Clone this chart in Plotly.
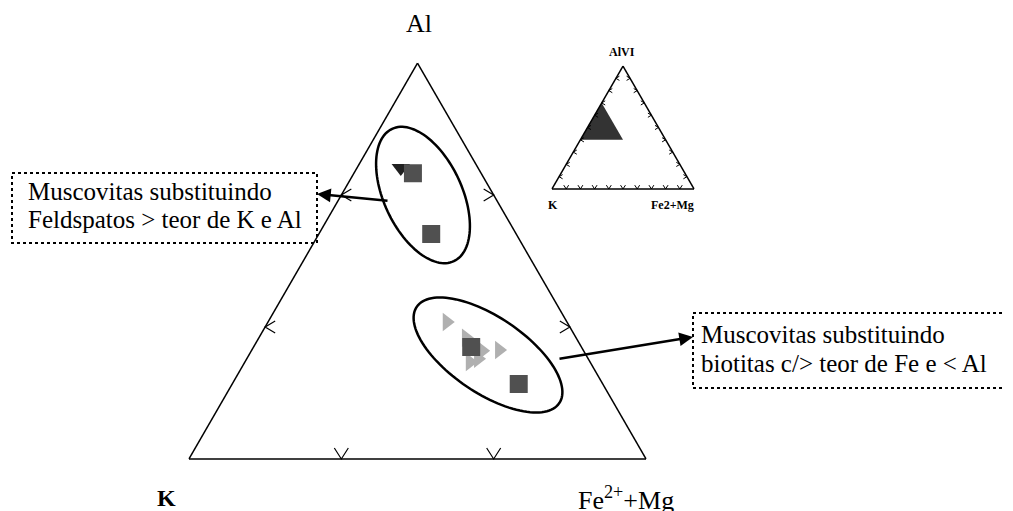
import math
import plotly.graph_objects as go

# The page body has an 8 px default margin: lay out in window pixels and shift.
OFF = 8
FIG_W, FIG_H = 1013 - OFF, 511 - OFF
SERIF = "Liberation Serif, Times New Roman, serif"

# ---------------- data (ternary: a = Al, b = K, c = Fe2+ + Mg) ----------------
sq_a = [0.722, 0.568, 0.283, 0.189]
sq_b = [0.149, 0.186, 0.241, 0.184]
sq_c = [0.129, 0.246, 0.476, 0.627]

tdown_a = [0.735]
tdown_b = [0.169]
tdown_c = [0.096]

tright_a = [0.346, 0.306, 0.273, 0.275, 0.245, 0.253]
tright_b = [0.263, 0.241, 0.222, 0.184, 0.263, 0.241]
tright_c = [0.391, 0.453, 0.505, 0.541, 0.492, 0.506]

# inset field (AlVI - K - Fe2+Mg)
field_a = [0.7, 0.4, 0.4, 0.7]
field_b = [0.3, 0.6, 0.3, 0.3]
field_c = [0.0, 0.0, 0.3, 0.0]

main_tick_fracs = [1 / 3, 2 / 3]
inset_tick_fracs = [0.1, 0.2, 0.3, 0.4, 0.5, 0.6, 0.7, 0.8, 0.9]

# ---------------- layout geometry (window pixels) ----------------
MAIN = dict(L=(189, 459), R=(646, 459), A=(417.5, 63))
INSET = dict(L=(552, 189), R=(694, 189), A=(623, 66))


def X(px):
    return (px - OFF) / FIG_W


def Y(py):
    return 1 - (py - OFF) / FIG_H


def domain(tri):
    return dict(x=[X(tri["L"][0]), X(tri["R"][0])], y=[Y(tri["L"][1]), Y(tri["A"][1])])


def path_from(points, close=False):
    s = "M " + " L ".join(f"{X(x):.5f},{Y(y):.5f}" for x, y in points)
    return s + (" Z" if close else "")


def chevrons(tri, fracs, scale=1.0):
    out = []
    L, R, A = tri["L"], tri["R"], tri["A"]
    for t in fracs:
        # bottom edge: "v"
        P = (L[0] + t * (R[0] - L[0]), L[1])
        out.append([(P[0] - 7 * scale, P[1] - 11 * scale), P, (P[0] + 7 * scale, P[1] - 11 * scale)])
        # left edge: "<"
        P = (L[0] + t * (A[0] - L[0]), L[1] + t * (A[1] - L[1]))
        out.append([(P[0] + 10 * scale, P[1] - 6 * scale), P, (P[0] + 10 * scale, P[1] + 6 * scale)])
        # right edge: ">"
        P = (R[0] + t * (A[0] - R[0]), R[1] + t * (A[1] - R[1]))
        out.append([(P[0] - 10 * scale, P[1] - 6 * scale), P, (P[0] - 10 * scale, P[1] + 6 * scale)])
    return out


def ellipse(cx, cy, a, b, deg, n=120):
    th = math.radians(deg)
    pts = []
    for i in range(n):
        t = 2 * math.pi * i / n
        x = a * math.cos(t)
        y = b * math.sin(t)
        pts.append((cx + x * math.cos(th) - y * math.sin(th), cy + x * math.sin(th) + y * math.cos(th)))
    return pts


fig = go.Figure()

fig.add_trace(go.Scatterternary(
    a=tright_a, b=tright_b, c=tright_c, mode="markers", subplot="ternary",
    marker=dict(symbol="triangle-right", size=16, color="#b0b0b0", line=dict(width=0)),
    name="tri-right"))
fig.add_trace(go.Scatterternary(
    a=tdown_a, b=tdown_b, c=tdown_c, mode="markers", subplot="ternary",
    marker=dict(symbol="triangle-down", size=16, color="#202020", line=dict(width=0)),
    name="tri-down"))
fig.add_trace(go.Scatterternary(
    a=sq_a, b=sq_b, c=sq_c, mode="markers", subplot="ternary",
    marker=dict(symbol="square", size=18, color="#505050", line=dict(width=0)),
    name="square"))

fig.add_trace(go.Scatterternary(
    a=field_a, b=field_b, c=field_c, mode="lines", subplot="ternary2",
    fill="toself", fillcolor="#333333", line=dict(width=0, color="#333333"),
    name="field"))


def tern_layout(tri, lw):
    ax = dict(showline=True, linecolor="black", linewidth=lw, showgrid=False,
              showticklabels=False, ticks="", title=dict(text=""), min=0)
    return dict(domain=domain(tri), sum=1, bgcolor="white",
                aaxis=ax, baxis=ax, caxis=ax)


shapes = []
for ch in chevrons(MAIN, main_tick_fracs):
    shapes.append(dict(type="path", xref="paper", yref="paper", path=path_from(ch),
                       line=dict(color="black", width=1.2), layer="above"))
for ch in chevrons(INSET, inset_tick_fracs, scale=0.35):
    shapes.append(dict(type="path", xref="paper", yref="paper", path=path_from(ch),
                       line=dict(color="black", width=1), layer="above"))

for (cx, cy, a, b, deg) in [(423, 195, 73, 39, 65), (488, 355, 86, 38, 34)]:
    shapes.append(dict(type="path", xref="paper", yref="paper",
                       path=path_from(ellipse(cx, cy, a, b, deg), close=True),
                       line=dict(color="black", width=2.5), layer="above"))

for (x0, y0, x1, y1) in [(12, 173, 317, 243), (693, 313, 1011, 388)]:
    shapes.append(dict(type="rect", xref="paper", yref="paper",
                       x0=X(x0), y0=Y(y0), x1=X(x1), y1=Y(y1),
                       line=dict(color="black", width=2, dash="dot"), fillcolor="rgba(0,0,0,0)"))

annotations = []


def txt(text, x, y, size, xanchor="center", bold=False):
    if bold:
        text = f"<b>{text}</b>"
    annotations.append(dict(text=text, x=X(x), y=Y(y), xref="paper", yref="paper",
                            xanchor=xanchor, yanchor="middle", showarrow=False,
                            font=dict(family=SERIF, size=size, color="black")))


txt("Al", 419, 24, 26)
txt("K", 166, 498, 24, bold=True)
txt("Fe<sup>2+</sup>+Mg", 576, 498, 26, xanchor="left")

txt("AlVI", 622, 52, 12, bold=True)
txt("K", 553, 205, 12, bold=True)
txt("Fe2+Mg", 672, 205, 12, bold=True)

txt("Muscovitas substituindo", 26, 191, 25, xanchor="left")
txt("Feldspatos > teor de K e Al", 26, 219, 25, xanchor="left")
txt("Muscovitas substituindo", 699, 334, 25, xanchor="left")
txt("biotitas c/> teor de Fe e < Al", 699, 363, 25, xanchor="left")

for (hx, hy, tx, ty) in [(317, 194, 389, 201), (693, 337, 558, 359)]:
    annotations.append(dict(text="", x=X(hx), y=Y(hy), xref="paper", yref="paper",
                            ax=tx - hx, ay=ty - hy, showarrow=True, arrowhead=2,
                            arrowsize=1.1, arrowwidth=2.5, arrowcolor="black", standoff=0))

fig.update_layout(
    width=FIG_W, height=FIG_H,
    margin=dict(l=0, r=0, t=0, b=0),
    paper_bgcolor="white", plot_bgcolor="white",
    showlegend=False,
    ternary=tern_layout(MAIN, 1.5),
    ternary2=tern_layout(INSET, 1.5),
    shapes=shapes,
    annotations=annotations,
)

fig.write_html("out.html")
